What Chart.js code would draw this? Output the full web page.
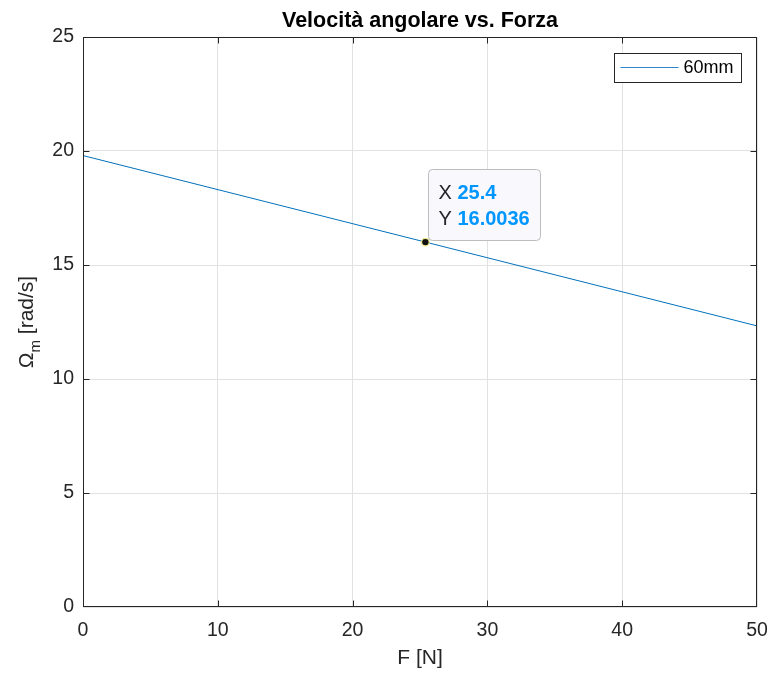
<!DOCTYPE html>
<html>
<head>
<meta charset="utf-8">
<script src="https://cdn.jsdelivr.net/npm/chart.js@4/dist/chart.umd.min.js"></script>
<style>
  html, body { margin: 0; padding: 0; background: #fff; }
  #wrap { width: 771px; height: 673px; }
</style>
</head>
<body>
<div id="wrap"><canvas id="omegaChart" width="771" height="673"></canvas></div>
<script>
// angular speed vs. applied force, 60mm case
const forceN = [0, 50];
const omegaRad = [19.80, 12.33];
const tipForce = 25.4;
const tipOmega = 16.0036;
const xTickVals = [0, 10, 20, 30, 40, 50];
const yTickVals = [0, 5, 10, 15, 20, 25];
const seriesName = "60mm";

const INK = "#262626";
const LINE_BLUE = "#0072BD";
const FONT = "'Liberation Sans', Arial, Helvetica, sans-serif";

// frame, inner tick marks, axis labels, legend box and the data tip
const matlabDecor = {
    id: "matlabDecor",
    afterDraw(chart) {
        const ctx = chart.ctx;
        const a = chart.chartArea;
        const xs = chart.scales.x;
        const ys = chart.scales.y;
        const L = Math.round(a.left) + 0.5, R = Math.round(a.right) - 0.5;
        const T = Math.round(a.top) + 0.5, B = Math.round(a.bottom) - 0.5;
        const clamp = (v, lo, hi) => Math.min(hi, Math.max(lo, v));

        ctx.save();
        ctx.strokeStyle = INK;
        ctx.lineWidth = 1;
        ctx.strokeRect(L, T, R - L, B - T);

        // ticks point inward on all four sides
        ctx.beginPath();
        xTickVals.forEach(v => {
            const px = clamp(Math.round(xs.getPixelForValue(v)) + 0.5, L, R);
            ctx.moveTo(px, B); ctx.lineTo(px, B - 6);
            ctx.moveTo(px, T); ctx.lineTo(px, T + 6);
        });
        yTickVals.forEach(v => {
            const py = clamp(Math.round(ys.getPixelForValue(v)) + 0.5, T, B);
            ctx.moveTo(L, py); ctx.lineTo(L + 6, py);
            ctx.moveTo(R, py); ctx.lineTo(R - 6, py);
        });
        ctx.stroke();

        // x label
        ctx.fillStyle = INK;
        ctx.font = "21px " + FONT;
        ctx.textAlign = "center";
        ctx.textBaseline = "middle";
        ctx.fillText("F [N]", (a.left + a.right) / 2, 658);

        // y label with subscript m
        ctx.save();
        ctx.translate(27, 322);
        ctx.rotate(-Math.PI / 2);
        const big = "21px " + FONT, small = "15px " + FONT;
        ctx.font = big;
        const wO = ctx.measureText("\u03A9").width;
        const wRest = ctx.measureText(" [rad/s]").width;
        ctx.font = small;
        const wM = ctx.measureText("m").width;
        let x0 = -(wO + wM + wRest) / 2;
        ctx.textAlign = "left";
        ctx.textBaseline = "alphabetic";
        ctx.font = big;
        ctx.fillText("\u03A9", x0, 6);
        ctx.font = small;
        ctx.fillText("m", x0 + wO, 13);
        ctx.font = big;
        ctx.fillText(" [rad/s]", x0 + wO + wM, 6);
        ctx.restore();

        // legend
        const lx = 614.5, ly = 53.5, lw = 127, lh = 29;
        ctx.fillStyle = "#fff";
        ctx.fillRect(lx, ly, lw, lh);
        ctx.strokeStyle = INK;
        ctx.strokeRect(lx, ly, lw, lh);
        ctx.strokeStyle = "#2f86cc";
        ctx.beginPath();
        ctx.moveTo(lx + 6, ly + 14);
        ctx.lineTo(lx + 64, ly + 14);
        ctx.stroke();
        ctx.fillStyle = "#000";
        ctx.font = "18px " + FONT;
        ctx.textAlign = "left";
        ctx.textBaseline = "middle";
        ctx.fillText(seriesName, lx + 69, ly + 15);

        // data tip box anchored to the marked point
        const px = xs.getPixelForValue(tipForce);
        const py = ys.getPixelForValue(tipOmega);
        const xTxt = String(tipForce), yTxt = tipOmega.toFixed(4);
        ctx.font = "20px " + FONT;
        const wLab = ctx.measureText("X ").width;
        ctx.font = "bold 20px " + FONT;
        const wVal = Math.max(ctx.measureText(xTxt).width, ctx.measureText(yTxt).width);
        const bx = Math.round(px + 3) + 0.5, by = Math.round(py - 73) + 0.5;
        const bw = Math.round(10 + wLab + wVal + 11), bh = 71;
        ctx.beginPath();
        ctx.roundRect(bx, by, bw, bh, 4);
        ctx.fillStyle = "#f8f8fd";
        ctx.fill();
        ctx.strokeStyle = "#bdbdbd";
        ctx.stroke();
        ctx.textBaseline = "middle";
        ctx.font = "20px " + FONT;
        ctx.fillStyle = INK;
        ctx.fillText("X", bx + 10, by + 24);
        ctx.fillText("Y", bx + 10, by + 50);
        ctx.font = "bold 20px " + FONT;
        ctx.fillStyle = "#0096FF";
        ctx.fillText(xTxt, bx + 10 + wLab, by + 24);
        ctx.fillText(yTxt, bx + 10 + wLab, by + 50);

        // marker drawn last so it sits above the box corner
        ctx.beginPath();
        ctx.arc(px, py, 3.8, 0, Math.PI * 2);
        ctx.fillStyle = "#111";
        ctx.fill();
        ctx.strokeStyle = "#f0eb8c";
        ctx.lineWidth = 1.2;
        ctx.stroke();
        ctx.restore();
    }
};

const ctx = document.getElementById("omegaChart").getContext("2d");
new Chart(ctx, {
    type: "scatter",
    data: {
        datasets: [{
            label: seriesName,
            data: forceN.map((f, i) => ({ x: f, y: omegaRad[i] })),
            showLine: true,
            borderColor: LINE_BLUE,
            borderWidth: 1,
            pointRadius: 0,
            fill: false
        }]
    },
    options: {
        responsive: false,
        animation: false,
        layout: { padding: { left: 0, right: 14, top: 0, bottom: 0 } },
        scales: {
            x: {
                type: "linear",
                min: 0, max: 50,
                afterBuildTicks: s => { s.ticks = xTickVals.map(v => ({ value: v })); },
                afterFit: s => { s.height = 66; s.paddingLeft = 0; s.paddingRight = 0; },
                grid: { color: "#e2e2e2", drawTicks: false },
                border: { display: false },
                ticks: { color: INK, padding: 12, font: { family: FONT, size: 19.5 }, maxRotation: 0 }
            },
            y: {
                type: "linear",
                min: 0, max: 25,
                afterBuildTicks: s => { s.ticks = yTickVals.map(v => ({ value: v })); },
                afterFit: s => { s.width = 83; s.paddingTop = 0; s.paddingBottom = 0; },
                grid: { color: "#e2e2e2", drawTicks: false },
                border: { display: false },
                ticks: { color: INK, padding: 9, font: { family: FONT, size: 19.5 } }
            }
        },
        plugins: {
            legend: { display: false },
            tooltip: { enabled: false },
            title: {
                display: true,
                text: "Velocit\u00E0 angolare vs. Forza",
                fullSize: false,
                color: "#000",
                font: { family: FONT, size: 21.5, weight: "bold" },
                padding: { top: 8, bottom: 3.2 }
            }
        }
    },
    plugins: [matlabDecor]
});
</script>
</body>
</html>
